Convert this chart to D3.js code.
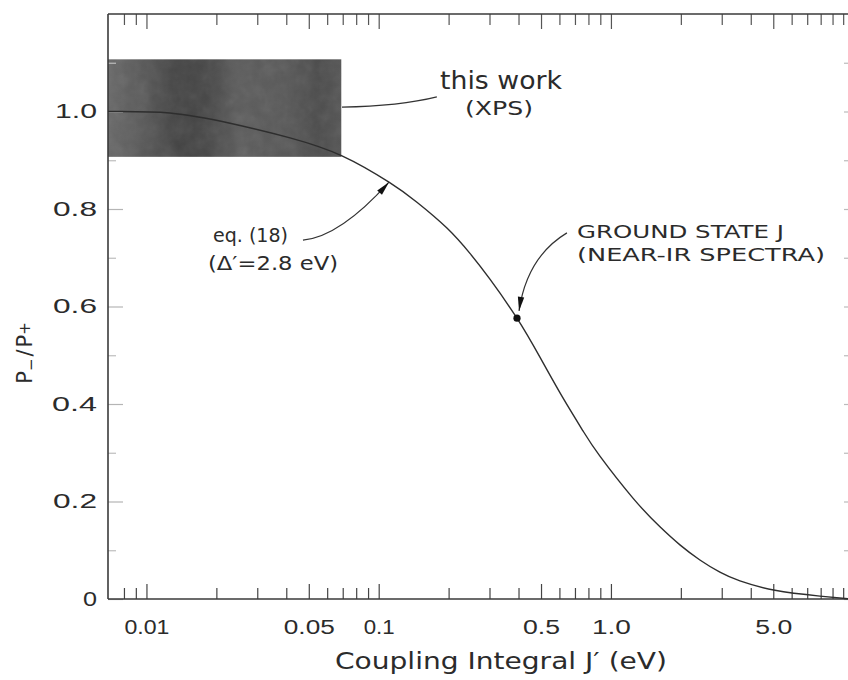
<!DOCTYPE html>
<html>
<head>
<meta charset="utf-8">
<script src="https://cdn.jsdelivr.net/npm/d3@7"></script>
<style>
  html, body { margin: 0; padding: 0; background: #fff; }
  svg { display: block; font-family: "DejaVu Sans", "Liberation Sans", sans-serif; }
</style>
</head>
<body>
<svg id="chart" width="848" height="680"></svg>
<script>
// Calculated ratio P-/P+ versus coupling integral J' (eq. 18, Δ' = 2.8 eV)
const couplingJ = [0.00683, 0.0126, 0.0229, 0.0415, 0.0695, 0.1107, 0.1461, 0.1967, 0.2471, 0.3013,
                   0.3938, 0.4946, 0.6152, 0.7576, 0.8966, 1.244, 1.626, 1.982, 2.416, 2.946,
                   3.593, 5.083, 7.94, 10.7];
const ratioP    = [1.0, 0.997, 0.976, 0.946, 0.909, 0.855, 0.814, 0.761, 0.709, 0.656,
                   0.576, 0.496, 0.416, 0.345, 0.293, 0.207, 0.148, 0.111, 0.080, 0.055,
                   0.037, 0.018, 0.006, 0.0];

// XPS result: band of P-/P+ over the low-J' range
const xpsJ = [0.00683, 0.069];
const xpsP = [0.907, 1.107];

// Ground state J from near-IR spectra
const groundJ = [0.394];
const groundP = [0.576];

// Axis ticks and labels
const xLabelValues = [0.01, 0.05, 0.1, 0.5, 1, 5];
const xLabelText   = ["0.01", "0.05", "0.1", "0.5", "1.0", "5.0"];
const yLabelValues = [0, 0.2, 0.4, 0.6, 0.8, 1.0];
const yLabelText   = ["0", "0.2", "0.4", "0.6", "0.8", "1.0"];
const yMinorValues = [0.1, 0.3, 0.5, 0.7, 0.9, 1.1];

// ---------------------------------------------------------------
const svg = d3.select("#chart");
const x = d3.scaleLog().domain([0.00683, 10.7]).range([108, 850]);
const y = d3.scaleLinear().domain([0, 1.2]).range([599, 14]);

const ink = "#2b2b2b";
const isLabelled = v => xLabelValues.some(m => Math.abs(m - v) / m < 1e-6);
const xMinorValues = x.ticks().filter(v => v >= 0.0075 && !isLabelled(v));

// stretch a text element to a given drawn width
function fit(sel, w) {
  sel.attr("textLength", w).attr("lengthAdjust", "spacingAndGlyphs");
}

// --- shaded XPS band -------------------------------------------
const defs = svg.append("defs");
const grad = defs.append("linearGradient").attr("id", "xpsShade")
  .attr("x1", "0").attr("x2", "1").attr("y1", "0").attr("y2", "0");
[[0, "#686868"], [0.14, "#5a5a5a"], [0.3, "#434343"], [0.42, "#464646"],
 [0.56, "#5c5c5c"], [0.76, "#585858"], [0.9, "#4b4b4b"], [1, "#555555"]]
  .forEach(([o, c]) => grad.append("stop").attr("offset", o).attr("stop-color", c));

const grain = defs.append("filter").attr("id", "grain")
  .attr("x", 0).attr("y", 0).attr("width", "100%").attr("height", "100%");
grain.append("feTurbulence").attr("type", "fractalNoise")
  .attr("baseFrequency", 0.08).attr("numOctaves", 3).attr("seed", 7);
grain.append("feColorMatrix").attr("type", "saturate").attr("values", 0);

const band = {
  x: x(xpsJ[0]), y: y(xpsP[1]),
  w: x(xpsJ[1]) - x(xpsJ[0]), h: y(xpsP[0]) - y(xpsP[1])
};
svg.append("rect").attr("x", band.x).attr("y", band.y)
  .attr("width", band.w).attr("height", band.h)
  .attr("fill", "url(#xpsShade)");
svg.append("rect").attr("x", band.x).attr("y", band.y)
  .attr("width", band.w).attr("height", band.h)
  .attr("filter", "url(#grain)").attr("opacity", 0.12);

// --- axes --------------------------------------------------------
function styleAxis(g, color) {
  g.selectAll(".domain").remove();
  g.selectAll(".tick line").attr("stroke", color).attr("stroke-width", 1.2);
  g.selectAll("text").attr("font-family", null).attr("font-size", 20).attr("fill", ink);
}

// bottom
svg.append("g").attr("transform", "translate(0,599)")
  .call(d3.axisBottom(x).tickValues(xMinorValues).tickSize(-11).tickFormat(""))
  .call(g => styleAxis(g, "#444"));
const xAx = svg.append("g").attr("transform", "translate(0,599)")
  .call(d3.axisBottom(x).tickValues(xLabelValues).tickSize(-15).tickPadding(21)
    .tickFormat((d, i) => xLabelText[i]))
  .call(g => styleAxis(g, "#444"));
const xLabelWidths = [45, 51, 31, 37, 39, 37];
xAx.selectAll("text").each(function (d, i) { fit(d3.select(this), xLabelWidths[i]); });

// top
svg.append("g").attr("transform", "translate(0,14)")
  .call(d3.axisTop(x).tickValues(xMinorValues).tickSize(-11).tickFormat(""))
  .call(g => styleAxis(g, "#555"));
svg.append("g").attr("transform", "translate(0,14)")
  .call(d3.axisTop(x).tickValues(xLabelValues).tickSize(-15).tickFormat(""))
  .call(g => styleAxis(g, "#555"));

// left
const yAx = svg.append("g").attr("transform", "translate(108,0)")
  .call(d3.axisLeft(y).tickValues(yLabelValues).tickSize(-15).tickPadding(11)
    .tickFormat((d, i) => yLabelText[i]))
  .call(g => styleAxis(g, "#b5b5b5"));
const yLabelWidths = [14, 44, 45, 44, 44, 42];
yAx.selectAll("text").each(function (d, i) { fit(d3.select(this), yLabelWidths[i]); });
svg.append("g").attr("transform", "translate(108,0)")
  .call(d3.axisLeft(y).tickValues(yMinorValues).tickSize(-8).tickFormat(""))
  .call(g => styleAxis(g, "#bdbdbd"));

// right (ticks only reach into view)
svg.append("g").attr("transform", "translate(850,0)")
  .call(d3.axisRight(y).tickValues(yLabelValues.concat(yMinorValues)).tickSize(-6).tickFormat(""))
  .call(g => styleAxis(g, "#bbb"));

// frame lines
const frame = svg.append("g").attr("stroke", "#3a3a3a").attr("stroke-width", 1.6).attr("fill", "none");
frame.append("line").attr("x1", x.range()[0]).attr("x2", x.range()[1]).attr("y1", y(0)).attr("y2", y(0));
frame.append("line").attr("x1", x.range()[0]).attr("x2", x.range()[1]).attr("y1", y(1.2)).attr("y2", y(1.2));
frame.append("line").attr("x1", x.range()[0]).attr("x2", x.range()[0]).attr("y1", y(0)).attr("y2", y(1.2));

// --- calculated curve ------------------------------------------
const curvePts = couplingJ.map((j, i) => [j, ratioP[i]]);
const line = d3.line().x(d => x(d[0])).y(d => y(d[1])).curve(d3.curveNatural);
svg.append("path").datum(curvePts)
  .attr("d", line).attr("fill", "none")
  .attr("stroke", "#2e2e2e").attr("stroke-width", 1.4);

// ground state point
svg.selectAll("circle.gs").data(groundJ.map((j, i) => [j, groundP[i]])).join("circle")
  .attr("class", "gs").attr("cx", d => x(d[0])).attr("cy", d => y(d[1]))
  .attr("r", 3.6).attr("fill", "#111");

// --- annotations -------------------------------------------------
function leader(pts, head) {
  const p = pts.map(d => [x(d[0]), y(d[1])]);
  svg.append("path")
    .attr("d", `M${p[0][0]},${p[0][1]}Q${p[1][0]},${p[1][1]} ${p[2][0]},${p[2][1]}`)
    .attr("fill", "none").attr("stroke", "#333").attr("stroke-width", 1.2);
  if (head) {
    const [ex, ey] = p[2], [cx, cy] = p[1];
    const a = Math.atan2(ey - cy, ex - cx), L = 14, W = 3.2;
    const bx = ex - L * Math.cos(a), by = ey - L * Math.sin(a);
    const nx = -Math.sin(a) * W, ny = Math.cos(a) * W;
    svg.append("path")
      .attr("d", `M${ex},${ey}L${bx + nx},${by + ny}L${bx - nx},${by - ny}Z`)
      .attr("fill", "#111");
  }
}
leader([[0.0695, 1.009], [0.1234, 1.011], [0.178, 1.030]], false);
leader([[0.0472, 0.736], [0.0681, 0.743], [0.1107, 0.855]], true);
leader([[0.6464, 0.751], [0.4347, 0.7015], [0.402, 0.591]], true);

function label(txt, px, py, size, w) {
  const t = svg.append("text").attr("x", px).attr("y", py)
    .attr("font-size", size).attr("fill", ink).text(txt);
  fit(t, w);
  return t;
}
label("this work", 440, 89, 25, 122);
label("(XPS)", 465, 115, 20, 68);
label("eq. (18)", 213, 242, 19, 75);
label("(Δ′=2.8 eV)", 208, 270, 19, 130);
label("GROUND STATE J", 577, 238, 18, 207);
label("(NEAR-IR SPECTRA)", 577, 261, 18, 248);

// axis titles
label("Coupling Integral J′ (eV)", 335, 669, 23, 332);

const yt = svg.append("text")
  .attr("transform", "translate(32,353) rotate(-90)")
  .attr("text-anchor", "middle").attr("font-size", 21).attr("fill", ink);
yt.append("tspan").text("P");
yt.append("tspan").attr("font-size", 15).attr("dy", 4).text("−");
yt.append("tspan").attr("dy", -4).attr("dx", 2).text("/");
yt.append("tspan").attr("dx", 2).text("P");
yt.append("tspan").attr("font-size", 15).attr("dy", -2).text("+");
</script>
</body>
</html>
